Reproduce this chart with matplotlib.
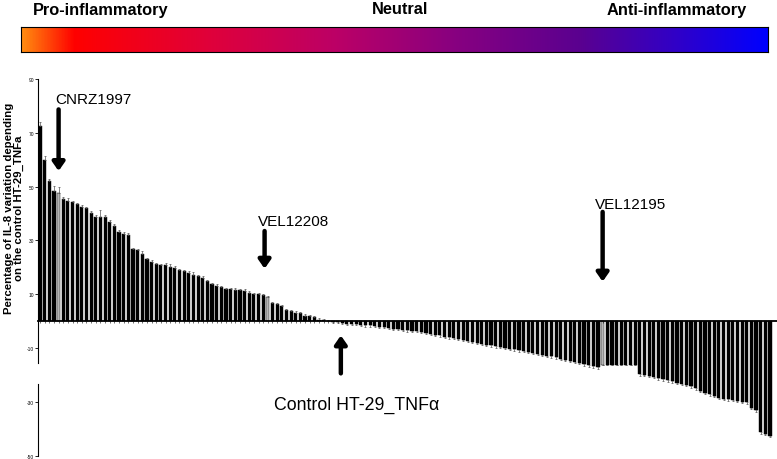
import numpy as np
import matplotlib.pyplot as plt
from matplotlib.colors import LinearSegmentedColormap

plt.rcParams['font.family'] = ['Liberation Sans', 'DejaVu Sans']

# IL-8 variation (%) for each strain, sorted, relative to control HT-29_TNFa
values = [72.6, 60.0, 52.0, 48.3, 47.5, 45.4, 44.8, 44.2, 43.6, 42.4,
          42.1, 40.3, 38.7, 38.7, 38.7, 36.8, 35.2, 33.1, 32.5, 32.1,
          26.7, 26.3, 25.0, 23.0, 22.0, 21.1, 20.7, 20.7, 20.1, 19.9,
          18.9, 18.5, 18.0, 17.3, 16.8, 16.1, 14.8, 13.7, 13.1, 12.6,
          11.9, 11.8, 11.7, 11.5, 11.3, 10.6, 10.0, 10.0, 9.6, 8.8,
          6.8, 6.2, 5.6, 4.1, 3.7, 3.2, 2.9, 2.0, 2.0, 1.5,
          0.6, 0.3, 0.2, -0.2, -0.4, -0.5, -0.9, -1.0, -1.1, -1.3,
          -1.5, -1.6, -1.8, -2.0, -2.2, -2.5, -2.8, -3.0, -3.2, -3.4,
          -3.6, -3.8, -4.0, -4.4, -4.8, -5.0, -5.3, -5.7, -6.0, -6.3,
          -6.6, -7.0, -7.4, -7.7, -8.1, -8.4, -8.7, -9.0, -9.3, -9.6,
          -9.9, -10.2, -10.5, -10.8, -11.1, -11.4, -11.8, -12.1, -12.4, -12.8,
          -13.1, -13.5, -13.9, -14.3, -14.8, -15.2, -15.6, -16.0, -16.4, -16.8,
          -17.0, -16.2, -16.2, -16.2, -16.2, -16.2, -16.2, -16.2, -16.2, -19.8,
          -20.0, -20.3, -20.6, -21.2, -21.6, -22.0, -22.4, -22.8, -23.2, -23.6,
          -24.2, -25.0, -25.8, -26.6, -27.2, -27.8, -28.4, -28.8, -29.0, -29.3,
          -29.6, -29.9, -30.2, -32.2, -33.0, -41.2, -41.8, -42.5]

errors = [1.4, 1.5, 0.7, 2.0, 2.5, 0.6, 0.8, 0.6, 0.5, 0.6,
          0.5, 0.7, 0.6, 2.6, 0.7, 0.8, 0.9, 0.6, 0.7, 0.8,
          0.6, 0.7, 1.2, 0.6, 0.7, 0.6, 0.6, 0.8, 1.2, 0.5,
          0.6, 0.7, 0.6, 0.8, 0.5, 0.6, 0.5, 0.6, 0.7, 0.5,
          0.6, 0.5, 0.5, 0.6, 0.5, 0.5, 0.6, 0.5, 0.5, 0.6,
          0.5, 0.6, 0.5, 0.5, 0.6, 0.5, 0.5, 0.5, 0.4, 0.5,
          0.4, 0.4, 0.4, 0.4, 0.4, 0.4, 0.5, 0.4, 0.5, 0.4,
          0.5, 0.4, 0.5, 0.5, 0.4, 0.5, 0.5, 0.4, 0.5, 0.5,
          0.5, 0.4, 0.5, 0.5, 0.5, 0.5, 0.4, 0.5, 0.5, 0.5,
          0.5, 0.5, 0.5, 0.5, 0.4, 0.5, 0.5, 0.5, 0.5, 0.5,
          0.5, 0.5, 0.5, 0.5, 0.4, 0.5, 0.5, 0.5, 0.5, 0.5,
          0.5, 0.5, 0.5, 0.5, 0.5, 0.5, 0.5, 0.6, 0.6, 0.6,
          0.6, 0.0, 0.0, 0.0, 0.0, 0.0, 0.0, 0.0, 0.0, 0.6,
          0.5, 0.5, 0.6, 0.5, 0.5, 0.6, 0.5, 0.5, 0.6, 0.5,
          0.5, 0.6, 0.5, 0.5, 0.6, 0.5, 0.5, 0.6, 0.5, 0.5,
          0.6, 0.5, 0.5, 0.6, 0.6, 0.6, 0.6, 0.6]

highlighted = [4, 49, 121]   # CNRZ1997, VEL12208, VEL12195
yticks = [90, 70, 50, 30, 10, -10, -30, -50]

bar_colors = ['#b5b5b5' if i in highlighted else 'black' for i in range(len(values))]
x = np.arange(len(values))

fig = plt.figure(figsize=(7.77, 4.60), dpi=100)

# colour scale on top
cax = fig.add_axes([21 / 777, 1 - 53 / 460, 747 / 777, 25 / 460])
cmap = LinearSegmentedColormap.from_list('inflam', [
    (0.0, '#ff8c10'), (0.07, '#ff0000'), (0.25, '#e0003a'),
    (0.42, '#bc0066'), (0.58, '#880080'), (0.75, '#5a0090'),
    (0.88, '#3000c8'), (1.0, '#0000ff')])
cax.imshow(np.linspace(0, 1, 256)[None, :], aspect='auto', cmap=cmap)
cax.set_xticks([])
cax.set_yticks([])
for s in cax.spines.values():
    s.set_linewidth(0.8)

top_font = dict(fontsize=11.8, fontweight='bold', va='center')
fig.text(33 / 777, 1 - 10 / 460, 'Pro-inflammatory', ha='left', **top_font)
fig.text(400 / 777, 1 - 10 / 460, 'Neutral', ha='center', **top_font)
fig.text(747 / 777, 1 - 10 / 460, 'Anti-inflammatory', ha='right', **top_font)

# main bar chart
ax = fig.add_axes([38 / 777, 3.3 / 460, 739 / 777, 376.7 / 460])
ax.bar(x, values, width=0.68, color=bar_colors, edgecolor='black', linewidth=0.3)
lower = [0 if v > 0 else e for v, e in zip(values, errors)]
upper = [e if v > 0 else 0 for v, e in zip(values, errors)]
ax.errorbar(x, values, yerr=[lower, upper], fmt='none', ecolor='#555555',
            elinewidth=0.5, capsize=1.0, capthick=0.5)

ax.set_xlim(-0.43, 158.5)
ax.set_ylim(-50, 90)
ax.set_yticks(yticks)
ax.set_yticklabels([str(t) for t in yticks], fontsize=3.5)
ax.tick_params(axis='y', length=2, width=0.6, pad=1)
ax.set_xticks(x)
ax.set_xticklabels([])
ax.tick_params(axis='x', length=1.5, width=0.4, direction='out')

ax.spines['top'].set_visible(False)
ax.spines['right'].set_visible(False)
ax.spines['left'].set_visible(False)
ax.spines['bottom'].set_position(('data', 0))
ax.spines['bottom'].set_linewidth(1.3)
ax.spines['bottom'].set_zorder(5)
# broken left axis line
ax.plot([0, 0], [90, -15.7], color='black', lw=0.8,
        transform=ax.get_yaxis_transform(), clip_on=False)
ax.plot([0, 0], [-23.5, -50], color='black', lw=0.8,
        transform=ax.get_yaxis_transform(), clip_on=False)

fig.text(14 / 777, 1 - 208 / 460,
         'Percentage of IL-8 variation depending\non the control HT-29_TNFa',
         rotation=90, fontsize=8.2, fontweight='bold', ha='center', va='center',
         linespacing=1.0)

arrow = dict(arrowstyle='-|>,head_width=0.35,head_length=0.5', lw=3.2,
             color='black', shrinkA=0, shrinkB=0, mutation_scale=10)

ax.text(3.2, 82.5, 'CNRZ1997', fontsize=11, ha='left', va='center')
ax.annotate('', xy=(4, 55.8), xytext=(4, 78.7), arrowprops=arrow)

ax.text(46.9, 37.3, 'VEL12208', fontsize=11, ha='left', va='center')
ax.annotate('', xy=(48.3, 19.5), xytext=(48.3, 33.5), arrowprops=arrow)

ax.text(119.4, 43.6, 'VEL12195', fontsize=11, ha='left', va='center')
ax.annotate('', xy=(121, 14.7), xytext=(121, 40.6), arrowprops=arrow)

ax.text(68, -30.8, 'Control HT-29_TNF\u03b1', fontsize=12.8, ha='center', va='center')
ax.annotate('', xy=(64.7, -5.3), xytext=(64.7, -19.4), arrowprops=arrow)

fig.savefig('out.png', dpi=100)
